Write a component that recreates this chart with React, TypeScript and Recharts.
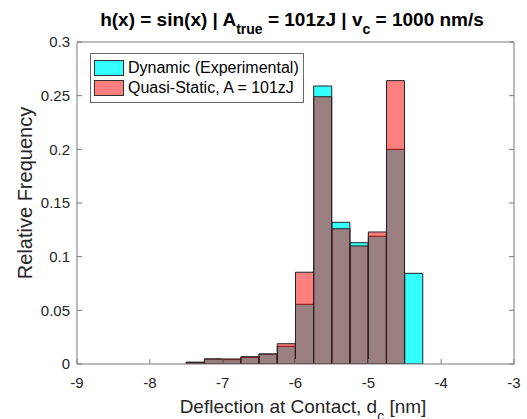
import React from 'react';
import { ComposedChart, Bar, XAxis, YAxis, Legend } from 'recharts';

const binCenters = [-7.375, -7.125, -6.875, -6.625, -6.375, -6.125, -5.875, -5.625, -5.375, -5.125, -4.875, -4.625, -4.375];
const dynamicFreq = [0.0016, 0.0047, 0.004, 0.0062, 0.0093, 0.0165, 0.0556, 0.259, 0.132, 0.113, 0.119, 0.2, 0.0845];
const quasiStaticFreq = [0.0016, 0.0047, 0.0047, 0.0068, 0.0093, 0.0189, 0.0855, 0.249, 0.126, 0.11, 0.123, 0.264, 0];
const xTicks = [-9, -8, -7, -6, -5, -4, -3];
const yTicks = [0, 0.05, 0.1, 0.15, 0.2, 0.25, 0.3];
const seriesNames = ['Dynamic (Experimental)', 'Quasi-Static, A = 101zJ'];

const data = binCenters.map((x, i) => ({ x, dyn: dynamicFreq[i], qs: quasiStaticFreq[i] }));

const FONT = '"Liberation Sans", Arial, Helvetica, sans-serif';
const axisColor = '#7a7a7a';
const textColor = '#262626';
const CYAN = '#00FFFF';
const RED = '#FF0000';
const TICK_FS = 15;

const BottomTick = (props: any) => {
  const { x, y, payload } = props;
  return (
    <g>
      <line x1={x} y1={y} x2={x} y2={y - 5} stroke={axisColor} />
      <text x={x} y={y + 24} textAnchor="middle" fill={textColor} fontSize={TICK_FS} fontFamily={FONT}>
        {String(payload.value)}
      </text>
    </g>
  );
};

const TopTick = (props: any) => {
  const { x, y } = props;
  return <line x1={x} y1={y} x2={x} y2={y + 5} stroke={axisColor} />;
};

const LeftTick = (props: any) => {
  const { x, y, payload } = props;
  return (
    <g>
      <line x1={x} y1={y} x2={x + 5} y2={y} stroke={axisColor} />
      <text x={x - 7} y={y} dy="0.36em" textAnchor="end" fill={textColor} fontSize={TICK_FS} fontFamily={FONT}>
        {String(payload.value)}
      </text>
    </g>
  );
};

const RightTick = (props: any) => {
  const { x, y } = props;
  return <line x1={x} y1={y} x2={x - 5} y2={y} stroke={axisColor} />;
};

const renderTitle = () => (
  <text x={292} y={26} textAnchor="middle" fontWeight="bold" fontSize={19} fill="#000" fontFamily={FONT}>
    h(x) = sin(x) | A
    <tspan fontSize={14} dy={8}>true</tspan>
    <tspan dy={-8}> = 101zJ | v</tspan>
    <tspan fontSize={14} dy={8}>c</tspan>
    <tspan dy={-8}> = 1000 nm/s</tspan>
  </text>
);

const renderXLabel = () => (
  <text x={303} y={413} textAnchor="middle" fontSize={19} fill={textColor} fontFamily={FONT}>
    Deflection at Contact, d
    <tspan fontSize={14} dy={8}>c</tspan>
    <tspan dy={-8}> [nm]</tspan>
  </text>
);

const renderYLabel = () => (
  <text x={0} y={0} transform="translate(32,193) rotate(-90)" textAnchor="middle" fontSize={20} fill={textColor} fontFamily={FONT}>
    Relative Frequency
  </text>
);

const LegendBox = () => (
  <div
    style={{
      position: 'absolute',
      left: 0,
      top: 0,
      width: 'max-content',
      whiteSpace: 'nowrap',
      border: '1px solid #6a6a6a',
      background: '#fff',
      padding: '4px 4px 4px 3px',
      fontFamily: FONT,
      fontSize: 16,
      color: '#000',
      lineHeight: '20px',
    }}
  >
    {seriesNames.map((n, i) => (
      <div key={n} style={{ display: 'flex', alignItems: 'center', height: 20 }}>
        <span
          style={{
            display: 'inline-block',
            boxSizing: 'border-box',
            width: 30,
            height: 16,
            marginRight: 4,
            border: '1px solid #333',
            background: i === 0 ? 'rgba(0,255,255,0.8)' : 'rgba(255,0,0,0.5)',
          }}
        />
        <span>{n}</span>
      </div>
    ))}
  </div>
);

export default function App() {
  return (
    <div style={{ position: 'absolute', left: 0, top: 0, width: 527, height: 419, background: '#fff' }}>
      <ComposedChart
        width={527}
        height={419}
        data={data}
        margin={{ top: 41, right: 12, bottom: 54, left: 76 }}
        barCategoryGap={0}
        barGap={0}
      >
        <XAxis
          xAxisId="bottom"
          dataKey="x"
          type="number"
          domain={[-9, -3]}
          ticks={xTicks}
          interval={0}
          height={1}
          tickSize={0}
          tickMargin={0}
          tickLine={false}
          axisLine={{ stroke: axisColor }}
          tick={<BottomTick />}
          label={renderXLabel}
          allowDataOverflow
        />
        <XAxis
          xAxisId="bottom2"
          dataKey="x"
          type="number"
          domain={[-9, -3]}
          hide
          allowDataOverflow
        />
        <XAxis
          xAxisId="top"
          orientation="top"
          type="number"
          domain={[-9, -3]}
          ticks={xTicks}
          interval={0}
          height={1}
          tickSize={0}
          tickMargin={0}
          tickLine={false}
          axisLine={{ stroke: axisColor }}
          tick={<TopTick />}
          label={renderTitle}
          allowDataOverflow
        />
        <YAxis
          yAxisId="left"
          type="number"
          domain={[0, 0.3]}
          ticks={yTicks}
          interval={0}
          width={1}
          tickSize={0}
          tickMargin={0}
          tickLine={false}
          axisLine={{ stroke: axisColor }}
          tick={<LeftTick />}
          label={renderYLabel}
          allowDataOverflow
        />
        <YAxis
          yAxisId="right"
          orientation="right"
          type="number"
          domain={[0, 0.3]}
          ticks={yTicks}
          interval={0}
          width={1}
          tickSize={0}
          tickMargin={0}
          tickLine={false}
          axisLine={{ stroke: axisColor }}
          tick={<RightTick />}
          allowDataOverflow
        />
        <Legend
          content={<LegendBox />}
          wrapperStyle={{ position: 'absolute', top: 53, left: 90, width: 0, height: 0, overflow: 'visible' }}
        />
        <Bar
          xAxisId="bottom"
          yAxisId="left"
          dataKey="dyn"
          name={seriesNames[0]}
          fill={CYAN}
          fillOpacity={0.8}
          stroke="#222"
          strokeWidth={1}
          isAnimationActive={false}
        />
        <Bar
          xAxisId="bottom2"
          yAxisId="left"
          dataKey="qs"
          name={seriesNames[1]}
          fill={RED}
          fillOpacity={0.5}
          stroke="#222"
          strokeWidth={1}
          isAnimationActive={false}
        />
      </ComposedChart>
    </div>
  );
}
